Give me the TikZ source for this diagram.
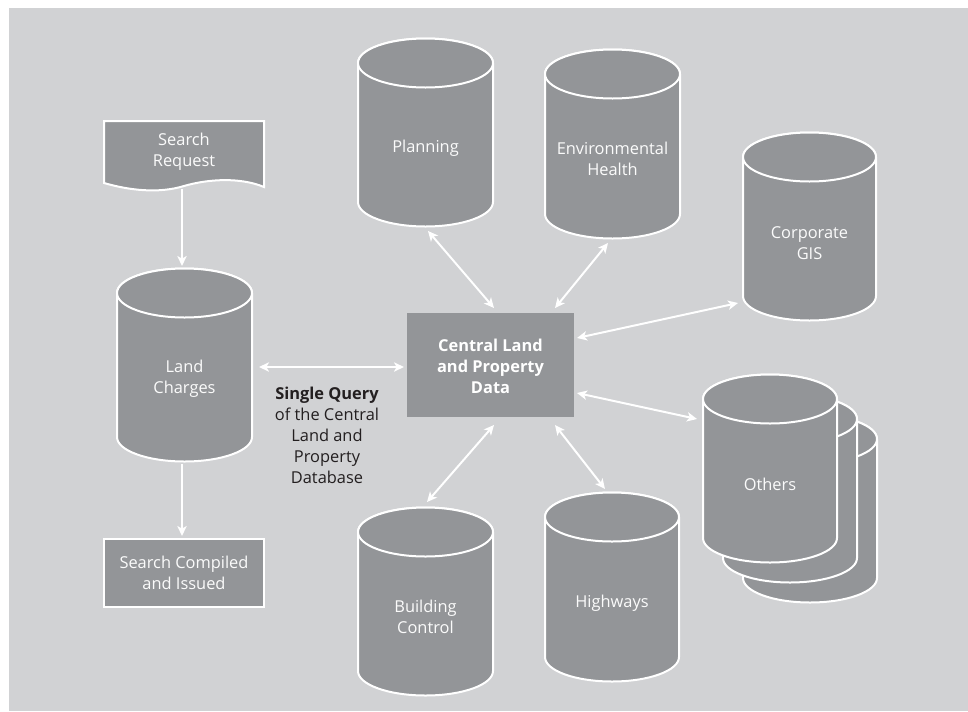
\documentclass[tikz,border=0pt]{standalone}
\usepackage{fontspec}
\setmainfont{Open Sans}
\usetikzlibrary{arrows.meta}
\definecolor{bgc}{HTML}{D1D2D4}
\definecolor{dbc}{HTML}{939598}
\definecolor{txc}{HTML}{231F20}
\newcommand\dbcyl[5]{%
  \filldraw[cyl] (#1-#4,#2) -- (#1-#4,#3) arc[start angle=180,end angle=0,x radius=#4,y radius=#5] -- (#1+#4,#2) arc[start angle=0,end angle=-180,x radius=#4,y radius=#5] -- cycle;
  \draw[cyl] (#1,#2) ellipse[x radius=#4,y radius=#5];
}
\tikzset{
  cyl/.style={fill=dbc,draw=white,line width=1.5pt},
  lbl/.style={text=white!96!dbc,align=center,font=\fontsize{12.3}{15.75}\selectfont,inner sep=0pt},
  boxst/.style={fill=dbc,draw=white,line width=1.5pt},
  arr/.style={draw=white,line width=1.5pt,-{Stealth[length=7.5pt,width=7pt,inset=2pt]}},
  darr/.style={draw=white,line width=1.5pt,{Stealth[length=7.5pt,width=7pt,inset=2pt]}-{Stealth[length=7.5pt,width=7pt,inset=2pt]}},
}
\begin{document}
\begin{tikzpicture}[x=0.75pt,y=-0.75pt]
\useasboundingbox (0,0) rectangle (968,711);
\fill[white] (0,0) rectangle (968,711);
\fill[bgc] (9,8) rectangle (968,711);

% Search Request document shape
\filldraw[boxst] (104,121) -- (264,121) -- (264,187) .. controls (240,177) and (208,179) .. (184,186) .. controls (158,194) and (128,190) .. (104,183) -- cycle;
\node[lbl] (sreq) at (184,152) {Search\\Request};

% Land Charges
\dbcyl{184.5}{293}{437}{67.5}{24.5}
\node[lbl] (land) at (184.5,379) {Land\\Charges};

% Search Compiled box
\filldraw[boxst] (104,539) rectangle (264,607);
\node[lbl] (scomp) at (184,573) {Search Compiled\\and Issued};

% Planning
\dbcyl{425.5}{63}{202}{67.5}{24.5}
\node[lbl] (plan) at (425.5,148) {Planning};

% Environmental Health
\dbcyl{612.5}{74}{214}{67.5}{24.5}
\node[lbl] (env) at (612.5,159) {Environmental\\Health};

% Corporate GIS
\dbcyl{809.5}{157}{296}{66.5}{24.5}
\node[lbl] (gis) at (809.5,243) {Corporate\\GIS};

% Building Control
\dbcyl{425.5}{532}{671}{67.5}{24.5}
\node[lbl] (bc) at (425.5,617) {Building\\Control};

% Highways
\dbcyl{612}{517}{657}{67}{24.5}
\node[lbl] (hw) at (612,603) {Highways};

% Others (stacked)
\dbcyl{810}{439}{578}{67}{24.5}
\dbcyl{790}{419}{558}{67}{24.5}
\dbcyl{770}{399}{538}{67}{24.5}
\node[lbl] (oth) at (770,484) {Others};

% Central box
\fill[dbc] (407,313) rectangle (574,417);
\node[lbl,text=white,font=\fontsize{12.3}{15.75}\selectfont\bfseries] (cen) at (490.5,366) {Central Land\\and Property\\Data};

% Single query text
\node[lbl,text=txc] (sq) at (327,435) {\textbf{Single Query}\\of the Central\\Land and\\Property\\Database};

% connector end points
\coordinate (sreqB) at (182,189);
\coordinate (landT) at (182,266);
\coordinate (landB) at (182,464);
\coordinate (scompT) at (182,536);
\coordinate (landR) at (259,367);
\coordinate (cenL) at (404,367);
\coordinate (planB) at (428,231);
\coordinate (cenTL) at (494,308);
\coordinate (envB) at (608,243);
\coordinate (cenTR) at (555,308);
\coordinate (gisL) at (738,303);
\coordinate (cenRT) at (577,338);
\coordinate (othL) at (697,419);
\coordinate (cenRB) at (577,393);
\coordinate (bcT) at (427,502);
\coordinate (cenBL) at (494,425);
\coordinate (hwT) at (605,489);
\coordinate (cenBR) at (555,425);

\draw[arr] (sreqB) -- (landT);
\draw[arr] (landB) -- (scompT);
\draw[darr] (landR) -- (cenL);
\draw[darr] (planB) -- (cenTL);
\draw[darr] (envB) -- (cenTR);
\draw[darr] (gisL) -- (cenRT);
\draw[darr] (othL) -- (cenRB);
\draw[darr] (bcT) -- (cenBL);
\draw[darr] (hwT) -- (cenBR);
\end{tikzpicture}
\end{document}
